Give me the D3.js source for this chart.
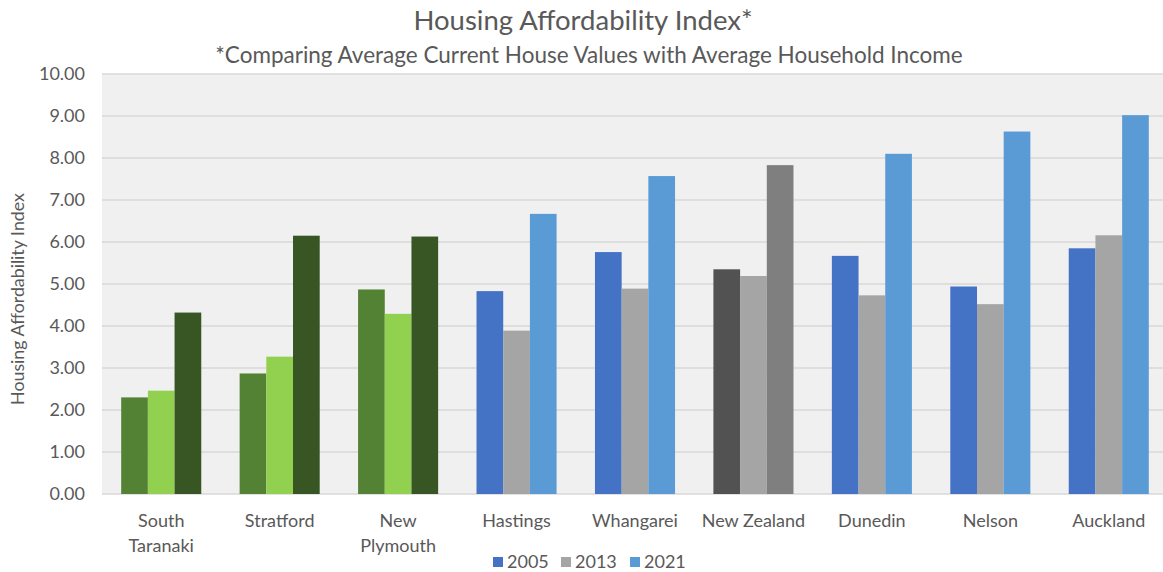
<!DOCTYPE html>
<html>
<head>
<meta charset="utf-8">
<script src="https://cdn.jsdelivr.net/npm/d3@7"></script>
<style>
  html, body { margin: 0; padding: 0; background: #ffffff; }
  svg text { font-family: Lato, "Open Sans", sans-serif; fill: #595959; }
</style>
</head>
<body>
<div id="chart"></div>
<script>
// ---- data ----
const regions = ['South Taranaki', 'Stratford', 'New Plymouth', 'Hastings', 'Whangarei',
  'New Zealand', 'Dunedin', 'Nelson', 'Auckland'];
const years = ['2005', '2013', '2021'];
const values2005 = [2.30, 2.87, 4.87, 4.83, 5.76, 5.35, 5.67, 4.94, 5.85];
const values2013 = [2.46, 3.27, 4.29, 3.89, 4.89, 5.19, 4.73, 4.52, 6.16];
const values2021 = [4.32, 6.15, 6.13, 6.67, 7.57, 7.83, 8.10, 8.63, 9.02];
const yTicks = [0, 1, 2, 3, 4, 5, 6, 7, 8, 9, 10];

// colour sets: Taranaki regions green, national figure grey, others blue
const greenSet = ['#548235', '#92d050', '#375623'];
const greySet = ['#525252', '#a5a5a5', '#7f7f7f'];
const blueSet = ['#4472c4', '#a5a5a5', '#5b9bd5'];
const regionPalette = [greenSet, greenSet, greenSet, blueSet, blueSet, greySet, blueSet, blueSet, blueSet];

(function () {
  'use strict';

  const W = 1163, H = 572;
  const plot = { left: 102, right: 1168, top: 74, bottom: 494 };

  const svg = d3.select('#chart').append('svg')
    .attr('width', W).attr('height', H);

  const x = d3.scaleBand().domain(regions)
    .range([plot.left, plot.right])
    .paddingInner(0.324).paddingOuter(0.162);
  const xs = d3.scaleBand().domain(years).range([0, x.bandwidth()]).padding(0);
  const y = d3.scaleLinear().domain([0, 10]).range([plot.bottom, plot.top]);

  // plot area background
  svg.append('rect')
    .attr('x', plot.left).attr('y', plot.top)
    .attr('width', plot.right - plot.left).attr('height', plot.bottom - plot.top)
    .attr('fill', '#f0f0f0');

  // gridlines
  svg.append('g').selectAll('line')
    .data(yTicks).join('line')
    .attr('x1', plot.left).attr('x2', plot.right)
    .attr('y1', d => y(d)).attr('y2', d => y(d))
    .attr('stroke', '#d9d9d9').attr('stroke-width', 1.3);

  // y axis labels
  const yAxis = d3.axisLeft(y).tickValues(yTicks).tickFormat(d3.format('.2f')).tickSize(0).tickPadding(17);
  svg.append('g').attr('transform', `translate(${plot.left},0)`).call(yAxis)
    .call(g => g.select('.domain').remove())
    .selectAll('text').style('font-size', '18px').attr('fill', '#595959');

  // bars
  const rows = regions.map((r, i) => ({ region: r, idx: i, vals: [values2005[i], values2013[i], values2021[i]] }));
  const groups = svg.append('g').selectAll('g')
    .data(rows).join('g')
    .attr('transform', d => `translate(${x(d.region)},0)`);
  groups.selectAll('rect')
    .data(d => d.vals.map((v, k) => ({ v, k, idx: d.idx })))
    .join('rect')
    .attr('x', d => xs(years[d.k]))
    .attr('width', xs.bandwidth())
    .attr('y', d => y(d.v))
    .attr('height', d => y(0) - y(d.v))
    .attr('fill', d => regionPalette[d.idx][d.k]);

  // x labels (two lines where the name has a space, except New Zealand)
  const xl = svg.append('g').selectAll('text')
    .data(regions).join('text')
    .attr('x', d => x(d) + x.bandwidth() / 2)
    .attr('y', 527)
    .attr('text-anchor', 'middle')
    .style('font-size', '18px');
  xl.each(function (d) {
    const parts = d === 'New Zealand' ? [d] : d.split(' ');
    const sel = d3.select(this);
    parts.forEach((p, i) => {
      sel.append('tspan').attr('x', x(d) + x.bandwidth() / 2).attr('dy', i ? 25 : 0).text(p);
    });
  });

  // titles
  svg.append('text').attr('x', 583).attr('y', 30).attr('text-anchor', 'middle')
    .style('font-size', '27.5px').text('Housing Affordability Index*');
  svg.append('text').attr('x', 589).attr('y', 63).attr('text-anchor', 'middle')
    .style('font-size', '22.5px').text('*Comparing Average Current House Values with Average Household Income');

  // y axis title
  svg.append('text')
    .attr('transform', 'translate(24,299) rotate(-90)')
    .attr('text-anchor', 'middle')
    .style('font-size', '17.8px')
    .text('Housing Affordability Index');

  // legend
  const legendX = [493, 561, 630];
  const lg = svg.append('g').selectAll('g')
    .data(years).join('g')
    .attr('transform', (d, i) => `translate(${legendX[i]},557)`);
  lg.append('rect').attr('width', 10).attr('height', 10)
    .attr('fill', (d, i) => blueSet[i]);
  lg.append('text').attr('x', 14).attr('y', 11)
    .style('font-size', '18px').text(d => d);
})();
</script>
</body>
</html>
